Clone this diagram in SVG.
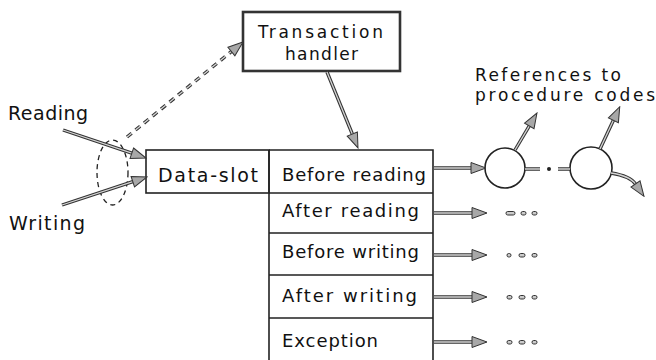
<svg xmlns="http://www.w3.org/2000/svg" width="656" height="360" viewBox="0 0 656 360">
  <defs>
    <marker id="head" markerUnits="userSpaceOnUse" viewBox="-1 -7 17 14" markerWidth="17" markerHeight="14" refX="0" refY="0" orient="auto">
      <path d="M0,-5.5 L15,0 L0,5.5 Z" fill="#a8a8a8" stroke="#333" stroke-width="1"/>
    </marker>
    <style>
      text { font-family: "DejaVu Sans", "Liberation Sans", sans-serif; fill: #111; }
      .lbl { font-size: 18px; }
      .big { font-size: 19px; }
      .small { font-size: 17px; }
      .ref { font-size: 17px; }
      .box { fill: #fff; stroke: #222; stroke-width: 1.6; }
      .th { fill: #fff; stroke: #333; stroke-width: 2.6; }
      .rule { stroke: #222; stroke-width: 1.6; fill: none; }
      .outer { fill: none; stroke: #333; stroke-width: 3.4; }
      .core { fill: none; stroke: #d4d4d4; stroke-width: 1.3; }
      .dash { stroke-dasharray: 6 5; }
      .ring { fill: #fff; stroke: #222; stroke-width: 1.6; }
      .dot { fill: #ccc; stroke: #333; stroke-width: 1; }
    </style>
  </defs>

  <!-- access labels -->
  <g id="reading">
    <text class="big" x="8" y="120" textLength="80" lengthAdjust="spacing">Reading</text>
  </g>
  <g id="writing">
    <text class="big" x="9" y="230" textLength="76" lengthAdjust="spacing">Writing</text>
  </g>

  <!-- transaction handler -->
  <g id="transaction-handler">
    <rect class="th" x="243" y="12" width="157" height="59"/>
    <text class="small" x="258" y="38" textLength="125" lengthAdjust="spacing">Transaction</text>
    <text class="small" x="285" y="60" textLength="73" lengthAdjust="spacing">handler</text>
  </g>

  <!-- slot with its demon table -->
  <g id="data-slot">
    <rect class="box" x="146" y="150" width="123" height="43"/>
    <text class="big" x="158" y="182" textLength="100" lengthAdjust="spacing">Data-slot</text>
  </g>
  <g id="demon-table">
    <path class="rule" d="M269,150 H433 V360 M269,150 V360 M269,193 H433 M269,233 H433 M269,275 H433 M269,318 H433"/>
    <text class="lbl" x="282" y="181" textLength="144" lengthAdjust="spacing">Before reading</text>
    <text class="lbl" x="282" y="217" textLength="137" lengthAdjust="spacing">After reading</text>
    <text class="lbl" x="282" y="258" textLength="137" lengthAdjust="spacing">Before writing</text>
    <text class="lbl" x="282" y="302" textLength="135" lengthAdjust="spacing">After writing</text>
    <text class="lbl" x="282" y="347" textLength="96" lengthAdjust="spacing">Exception</text>
  </g>

  <!-- access grouping -->
  <g id="access-group">
    <ellipse cx="112.5" cy="172.5" rx="15.5" ry="32.5" fill="none" stroke="#222" stroke-width="1.3" stroke-dasharray="5 4"/>
  </g>

  <!-- procedure reference chain -->
  <g id="ref-label">
    <text class="ref"><tspan x="475" y="81" textLength="146" lengthAdjust="spacing">References to</tspan><tspan x="475" y="101" textLength="180" lengthAdjust="spacing">procedure codes</tspan></text>
  </g>
  <g id="proc-1">
    <circle class="ring" cx="505" cy="168" r="20"/>
  </g>
  <g id="proc-2">
    <circle class="ring" cx="591" cy="168" r="21"/>
  </g>

  <g id="connectors">
    <!-- transaction handler to before-reading -->
    <path class="outer" d="M327,72 L352.3,134"/>
    <path class="core" d="M327,72 L352.3,134" marker-end="url(#head)"/>
    <!-- access to transaction handler -->
    <path class="outer dash" d="M127,137 L231.4,51.5"/>
    <path class="core dash" d="M127,137 L231.4,51.5" marker-end="url(#head)"/>
    <!-- reading / writing into slot -->
    <path class="outer" d="M63,130 L131.8,153.2"/>
    <path class="core" d="M63,130 L131.8,153.2" marker-end="url(#head)"/>
    <path class="outer" d="M62,205 L132.8,181.7"/>
    <path class="core" d="M62,205 L132.8,181.7" marker-end="url(#head)"/>
    <!-- row outputs -->
    <path class="outer" d="M434,168 H471"/>
    <path class="core" d="M434,168 H471" marker-end="url(#head)"/>
    <path class="outer" d="M434,213 H472"/>
    <path class="core" d="M434,213 H472" marker-end="url(#head)"/>
    <path class="outer" d="M434,255 H472"/>
    <path class="core" d="M434,255 H472" marker-end="url(#head)"/>
    <path class="outer" d="M434,297 H472"/>
    <path class="core" d="M434,297 H472" marker-end="url(#head)"/>
    <path class="outer" d="M434,342 H472"/>
    <path class="core" d="M434,342 H472" marker-end="url(#head)"/>
    <!-- chain between the two procedures -->
    <path class="outer" d="M525,169 H540 M558,169 H570"/>
    <path class="core" d="M525,169 H540 M558,169 H570"/>
    <circle cx="549" cy="169" r="2" fill="#222"/>
    <!-- references out of each procedure -->
    <path class="outer" d="M515,150 L529.3,125.9"/>
    <path class="core" d="M515,150 L529.3,125.9" marker-end="url(#head)"/>
    <path class="outer" d="M600,149 L613.4,120.3"/>
    <path class="core" d="M600,149 L613.4,120.3" marker-end="url(#head)"/>
    <path class="outer" d="M611,173 Q630,176 635.5,184"/>
    <path class="core" d="M611,173 Q630,176 635.5,184" marker-end="url(#head)"/>
    <!-- continuation marks -->
    <rect class="dot" x="506" y="211.5" width="9" height="3.5" rx="1.7"/>
    <rect class="dot" x="521" y="211.5" width="5" height="3.5" rx="1.7"/>
    <rect class="dot" x="532" y="211.5" width="5" height="3.5" rx="1.7"/>
    <rect class="dot" x="507" y="253.5" width="4" height="3.5" rx="1.7"/>
    <rect class="dot" x="519" y="253.5" width="6" height="3.5" rx="1.7"/>
    <rect class="dot" x="532" y="253.5" width="5" height="3.5" rx="1.7"/>
    <rect class="dot" x="507" y="295.5" width="5" height="3.5" rx="1.7"/>
    <rect class="dot" x="519" y="295.5" width="6" height="3.5" rx="1.7"/>
    <rect class="dot" x="532" y="295.5" width="5" height="3.5" rx="1.7"/>
    <rect class="dot" x="507" y="340.5" width="5" height="3.5" rx="1.7"/>
    <rect class="dot" x="519" y="340.5" width="6" height="3.5" rx="1.7"/>
    <rect class="dot" x="532" y="340.5" width="5" height="3.5" rx="1.7"/>
  </g>
</svg>
